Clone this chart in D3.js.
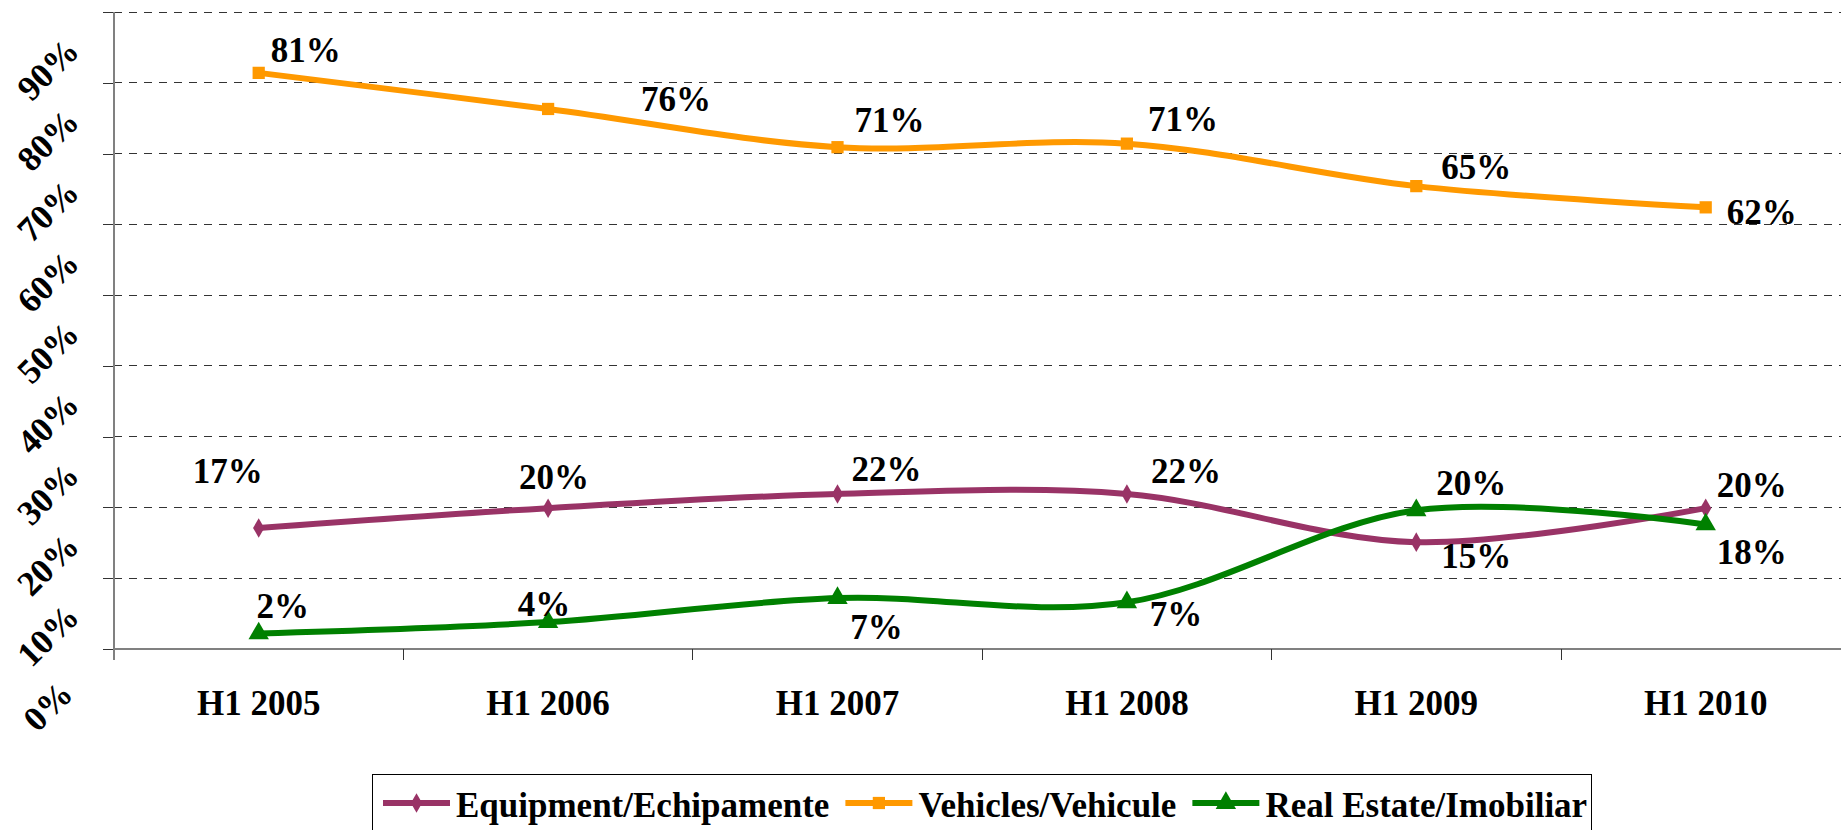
<!DOCTYPE html>
<html>
<head>
<meta charset="utf-8">
<script src="https://cdn.jsdelivr.net/npm/d3@7"></script>
<style>
  body { margin: 0; background: #fff; }
  svg text { font-family: "Times New Roman", "Liberation Serif", "DejaVu Serif", serif !important; font-weight: bold; fill: #000; }
</style>
</head>
<body>
<svg id="chart" width="1841" height="830"></svg>
<script>
// categories and series (percent)
const categories = ['H1 2005', 'H1 2006', 'H1 2007', 'H1 2008', 'H1 2009', 'H1 2010'];
const equipment  = [17.1, 19.9, 21.9, 21.9, 15.1, 19.9];
const vehicles   = [81.4, 76.3, 70.9, 71.4, 65.4, 62.4];
const realEstate = [2.2, 3.8, 7.2, 6.6, 19.6, 17.6];
const yTicks     = [0, 10, 20, 30, 40, 50, 60, 70, 80, 90];

// where Excel dropped each data label, relative to its point (dx to centre, dy to baseline)
const equipmentLabelOffsets  = [[-31, -45], [6, -19], [49, -13], [59, -11], [60, 26], [46, -11]];
const vehiclesLabelOffsets   = [[47, -11], [128, 2], [52, -15], [56, -13], [60, -7], [56, 17]];
const realEstateLabelOffsets = [[24, -15], [-4, -6], [39, 41], [49, 24], [55, -15], [46, 40]];

const series = [
  {name: 'Equipment/Echipamente', values: equipment,  color: '#993366', marker: 'diamond',  offsets: equipmentLabelOffsets},
  {name: 'Vehicles/Vehicule',     values: vehicles,   color: '#FF9900', marker: 'square',   offsets: vehiclesLabelOffsets},
  {name: 'Real Estate/Imobiliar', values: realEstate, color: '#008000', marker: 'triangle', offsets: realEstateLabelOffsets}
];

const FONT = '"Times New Roman", "Liberation Serif", "DejaVu Serif", serif';

const svg = d3.select('#chart')
  .attr('font-family', FONT)
  .attr('font-weight', 'bold');

const plotLeft = 114, plotBottom = 649, plotTop = 12, step = 289.4;

const x = d3.scaleBand().domain(categories).range([plotLeft, plotLeft + step * categories.length]);
const y = d3.scaleLinear().domain([0, 90]).range([plotBottom, plotTop]);

// dashed gridlines
svg.append('g').selectAll('line')
  .data(yTicks.filter(d => d > 0))
  .join('line')
    .attr('x1', plotLeft).attr('x2', 1841)
    .attr('y1', d => y(d)).attr('y2', d => y(d))
    .attr('stroke', '#333').attr('stroke-width', 1)
    .attr('stroke-dasharray', '8,7')
    .attr('shape-rendering', 'crispEdges');

// y axis
const yAxis = svg.append('g')
  .attr('transform', `translate(${plotLeft},0)`)
  .call(d3.axisLeft(y).tickValues(yTicks).tickSize(11).tickFormat(d => d + '%'))
  .attr('font-family', FONT);
yAxis.select('.domain').remove();
yAxis.selectAll('.tick line').attr('stroke', '#333').attr('shape-rendering', 'crispEdges');
yAxis.selectAll('.tick text')
  .attr('x', 0).attr('dy', null)
  .attr('text-anchor', 'middle')
  .attr('dominant-baseline', 'central')
  .attr('font-size', 35)
  .attr('transform', 'translate(-66,57) rotate(-45)');
svg.append('line')
  .attr('x1', plotLeft).attr('x2', plotLeft)
  .attr('y1', plotTop).attr('y2', plotBottom + 11)
  .attr('stroke', '#808080').attr('stroke-width', 2);

// x axis
const xAxis = svg.append('g')
  .attr('transform', `translate(0,${plotBottom})`)
  .call(d3.axisBottom(x).tickSize(0))
  .attr('font-family', FONT);
xAxis.select('.domain').remove();
xAxis.selectAll('.tick text')
  .attr('y', 66).attr('dy', null)
  .attr('font-size', 35);
svg.append('line')
  .attr('x1', plotLeft).attr('x2', 1841)
  .attr('y1', plotBottom).attr('y2', plotBottom)
  .attr('stroke', '#808080').attr('stroke-width', 2);
svg.append('g').selectAll('line')
  .data(categories.slice(1))
  .join('line')
    .attr('x1', d => x(d)).attr('x2', d => x(d))
    .attr('y1', plotBottom).attr('y2', plotBottom + 11)
    .attr('stroke', '#333').attr('shape-rendering', 'crispEdges');

const cx = c => x(c) + x.bandwidth() / 2;

const line = d3.line()
  .x((d, i) => cx(categories[i]))
  .y(d => y(d))
  .curve(d3.curveCatmullRom.alpha(0));

const symbols = {
  diamond:  d3.symbol().type(d3.symbolDiamond).size(110),
  square:   d3.symbol().type(d3.symbolSquare).size(150),
  triangle: d3.symbol().type(d3.symbolTriangle).size(180)
};

series.forEach(s => {
  svg.append('path')
    .datum(s.values)
    .attr('d', line)
    .attr('fill', 'none')
    .attr('stroke', s.color)
    .attr('stroke-width', 6)
    .attr('stroke-linejoin', 'round');

  svg.append('g').selectAll('path')
    .data(s.values)
    .join('path')
      .attr('d', symbols[s.marker])
      .attr('transform', (d, i) => `translate(${cx(categories[i])},${y(d)})`)
      .attr('fill', s.color);
});

// data labels
series.forEach(s => {
  svg.append('g').selectAll('text')
    .data(s.values)
    .join('text')
      .attr('x', (d, i) => cx(categories[i]) + s.offsets[i][0])
      .attr('y', (d, i) => y(d) + s.offsets[i][1])
      .attr('text-anchor', 'middle')
      .attr('font-size', 35)
      .text(d => Math.round(d) + '%');
});

// legend
const legend = svg.append('g');
legend.append('rect')
  .attr('x', 372.5).attr('y', 774.5)
  .attr('width', 1219).attr('height', 80)
  .attr('fill', '#fff').attr('stroke', '#000').attr('stroke-width', 1);

let lx = 383;
series.forEach(s => {
  legend.append('line')
    .attr('x1', lx).attr('x2', lx + 67)
    .attr('y1', 803).attr('y2', 803)
    .attr('stroke', s.color).attr('stroke-width', 6);
  legend.append('path')
    .attr('d', symbols[s.marker])
    .attr('transform', `translate(${lx + 33.5},803)`)
    .attr('fill', s.color);
  const t = legend.append('text')
    .attr('x', lx + 73).attr('y', 817)
    .attr('font-size', 35)
    .text(s.name);
  lx += 73 + t.node().getComputedTextLength() + 16;
});
</script>
</body>
</html>
